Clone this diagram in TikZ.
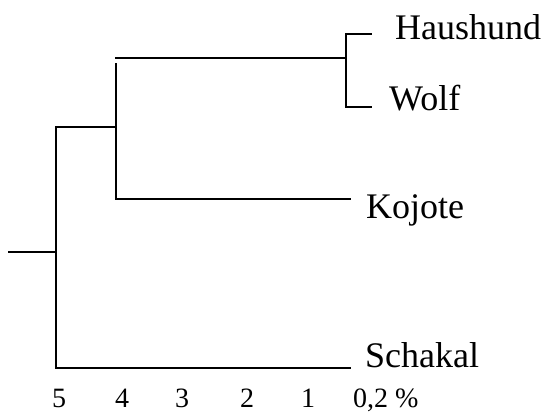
\documentclass[tikz,border=0pt]{standalone}
\usepackage{fontspec}
\setmainfont{Liberation Serif}
\begin{document}
\begin{tikzpicture}[x=1pt,y=-1pt,
  branch/.style={line width=1.4pt,line cap=rect},
  leaf/.style={font=\fontsize{36}{40}\selectfont,anchor=base west,inner sep=0pt},
  tick/.style={font=\fontsize{28}{32}\selectfont,anchor=base,inner sep=0pt}]
\useasboundingbox (0,0) rectangle (545,412);
% coordinates of the tree
\coordinate (root) at (9,252);
\coordinate (r1) at (56,252);
\coordinate (r1t) at (56,127);
\coordinate (r1b) at (56,368);
\coordinate (r2) at (116,127);
\coordinate (r2t) at (116,64);
\coordinate (r2b) at (116,199);
\coordinate (top) at (116,58);
\coordinate (br) at (346,58);
\coordinate (brt) at (346,34);
\coordinate (brb) at (346,107);
\coordinate (hend) at (371,34);
\coordinate (wend) at (371,107);
\coordinate (kend) at (350,199);
\coordinate (send) at (350,368);
% labels
\node[leaf] (haus) at (395,40) {Haushund};
\node[leaf] (wolf) at (389,110) {Wolf};
\node[leaf] (koj) at (366,218) {Kojote};
\node[leaf] (sch) at (365,367) {Schakal};
% branches
\draw[branch] (root) -- (r1);
\draw[branch] (r1t) -- (r1b) -- (send);
\draw[branch] (r1t) -- (r2);
\draw[branch] (r2t) -- (r2b) -- (kend);
\draw[branch] (top) -- (br);
\draw[branch] (hend) -- (brt) -- (brb) -- (wend);
% axis
\node[tick] (t5) at (59,407) {5};
\node[tick] (t4) at (122,407) {4};
\node[tick] (t3) at (182,407) {3};
\node[tick] (t2) at (247,407) {2};
\node[tick] (t1) at (308,407) {1};
\node[tick,anchor=base west] (t0) at (353,407) {0,2 \%};
\end{tikzpicture}
\end{document}
